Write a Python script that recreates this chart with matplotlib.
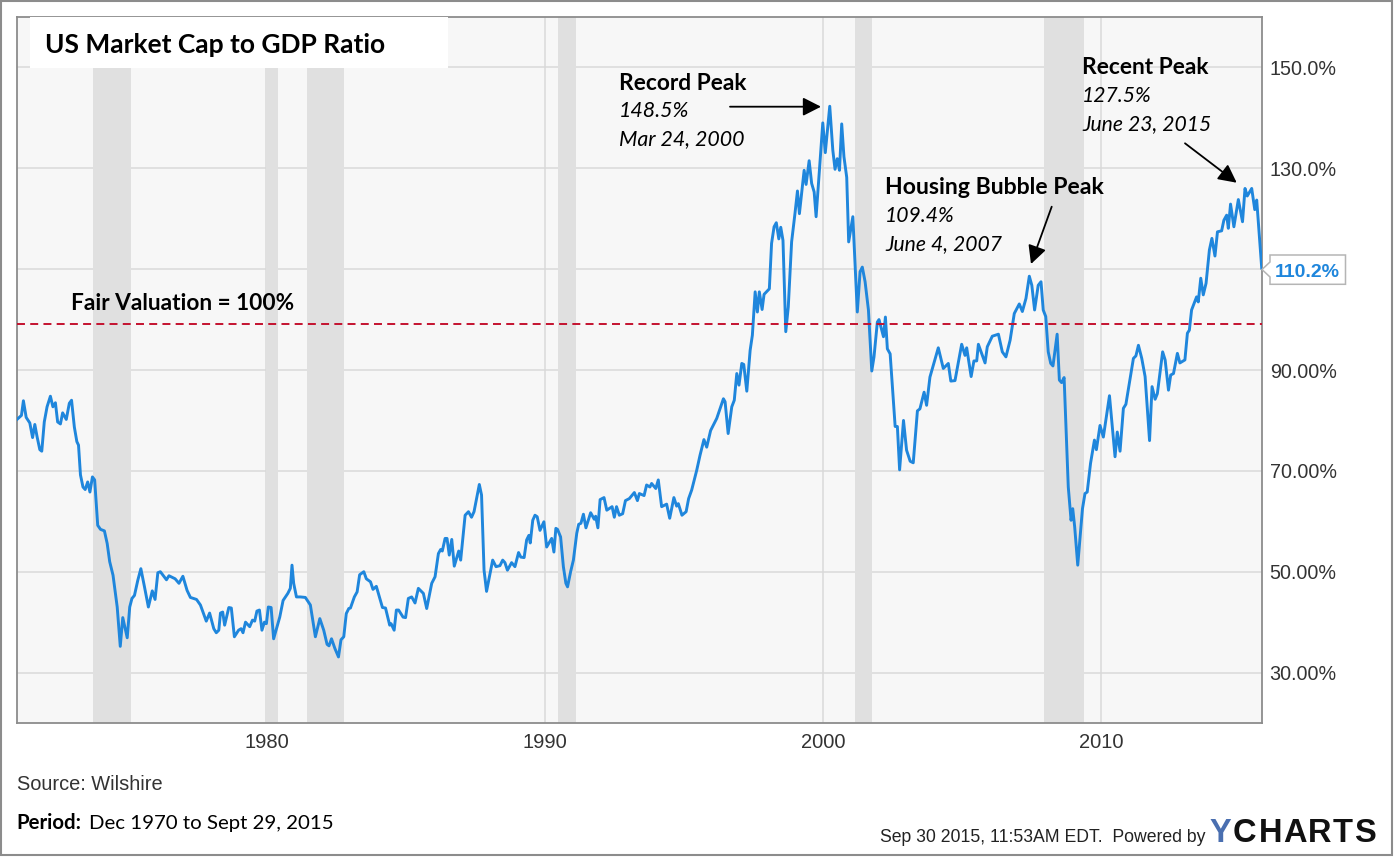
import matplotlib
matplotlib.use("Agg")
import matplotlib.pyplot as plt
from matplotlib.patches import Rectangle, Polygon

W, H = 1394, 857

dates = [
    1971.04, 1971.2, 1971.27, 1971.37, 1971.5, 1971.6, 1971.68, 1971.76, 1971.86, 1971.93,
    1972.02, 1972.12, 1972.24, 1972.33, 1972.42, 1972.5, 1972.6, 1972.68, 1972.81, 1972.92,
    1973.0, 1973.1, 1973.19, 1973.25, 1973.32, 1973.41, 1973.49, 1973.58, 1973.66, 1973.75,
    1973.83, 1973.94, 1974.04, 1974.18, 1974.28, 1974.37, 1974.49, 1974.64, 1974.75, 1974.84,
    1975.0, 1975.09, 1975.17, 1975.26, 1975.38, 1975.49, 1975.62, 1975.76, 1975.9, 1976.0,
    1976.1, 1976.19, 1976.41, 1976.5, 1976.72, 1976.86, 1977.0, 1977.15, 1977.27, 1977.49,
    1977.63, 1977.84, 1977.96, 1978.11, 1978.2, 1978.29, 1978.35, 1978.43, 1978.5, 1978.65,
    1978.74, 1978.85, 1979.0, 1979.09, 1979.16, 1979.25, 1979.4, 1979.5, 1979.58, 1979.66,
    1979.75, 1979.84, 1979.93, 1980.0, 1980.07, 1980.17, 1980.26, 1980.48, 1980.6, 1980.77,
    1980.86, 1980.92, 1980.98, 1981.08, 1981.22, 1981.4, 1981.58, 1981.76, 1981.92, 1982.06,
    1982.18, 1982.25, 1982.34, 1982.46, 1982.59, 1982.68, 1982.78, 1982.87, 1982.96, 1983.02,
    1983.16, 1983.26, 1983.35, 1983.5, 1983.59, 1983.74, 1983.83, 1983.95, 1984.17, 1984.28,
    1984.43, 1984.48, 1984.59, 1984.67, 1984.75, 1984.91, 1985.0, 1985.1, 1985.22, 1985.34,
    1985.46, 1985.64, 1985.76, 1985.94, 1986.06, 1986.18, 1986.26, 1986.32, 1986.42, 1986.49,
    1986.57, 1986.66, 1986.75, 1986.91, 1986.98, 1987.14, 1987.26, 1987.37, 1987.46, 1987.65,
    1987.73, 1987.82, 1987.91, 1988.13, 1988.25, 1988.39, 1988.49, 1988.57, 1988.66, 1988.81,
    1988.93, 1989.06, 1989.14, 1989.26, 1989.35, 1989.43, 1989.48, 1989.57, 1989.65, 1989.73,
    1989.83, 1989.97, 1990.07, 1990.25, 1990.33, 1990.4, 1990.46, 1990.57, 1990.67, 1990.76,
    1990.82, 1990.93, 1991.03, 1991.15, 1991.22, 1991.3, 1991.39, 1991.48, 1991.65, 1991.78,
    1991.83, 1991.91, 1991.99, 1992.13, 1992.23, 1992.42, 1992.5, 1992.58, 1992.68, 1992.8,
    1992.9, 1993.04, 1993.22, 1993.33, 1993.4, 1993.57, 1993.66, 1993.78, 1993.84, 1993.99,
    1994.08, 1994.2, 1994.38, 1994.49, 1994.64, 1994.74, 1994.8, 1994.93, 1995.08, 1995.17,
    1995.28, 1995.46, 1995.58, 1995.72, 1995.82, 1995.96, 1996.18, 1996.42, 1996.48, 1996.59,
    1996.72, 1996.81, 1996.9, 1996.98, 1997.08, 1997.15, 1997.26, 1997.38, 1997.46, 1997.56,
    1997.64, 1997.71, 1997.81, 1997.88, 1998.07, 1998.15, 1998.24, 1998.32, 1998.41, 1998.48,
    1998.56, 1998.66, 1998.75, 1998.87, 1998.99, 1999.08, 1999.15, 1999.32, 1999.39, 1999.5,
    1999.59, 1999.68, 1999.75, 1999.87, 1999.99, 2000.08, 2000.24, 2000.35, 2000.43, 2000.51,
    2000.59, 2000.67, 2000.75, 2000.85, 2000.92, 2001.07, 2001.23, 2001.33, 2001.41, 2001.51,
    2001.63, 2001.75, 2001.83, 2001.95, 2002.01, 2002.17, 2002.24, 2002.31, 2002.41, 2002.59,
    2002.67, 2002.75, 2002.89, 2003.0, 2003.13, 2003.24, 2003.39, 2003.48, 2003.63, 2003.72,
    2003.84, 2003.96, 2004.14, 2004.32, 2004.5, 2004.59, 2004.74, 2004.98, 2005.1, 2005.16,
    2005.32, 2005.42, 2005.52, 2005.58, 2005.82, 2005.9, 2006.08, 2006.3, 2006.44, 2006.57,
    2006.72, 2006.87, 2007.05, 2007.16, 2007.29, 2007.41, 2007.5, 2007.6, 2007.73, 2007.83,
    2007.91, 2008.0, 2008.09, 2008.18, 2008.26, 2008.41, 2008.49, 2008.57, 2008.66, 2008.81,
    2008.91, 2008.97, 2009.04, 2009.15, 2009.32, 2009.41, 2009.49, 2009.61, 2009.75, 2009.82,
    2009.95, 2010.07, 2010.29, 2010.49, 2010.57, 2010.67, 2010.79, 2010.88, 2011.03, 2011.15,
    2011.24, 2011.33, 2011.45, 2011.57, 2011.73, 2011.82, 2011.93, 2012.01, 2012.2, 2012.29,
    2012.41, 2012.49, 2012.59, 2012.73, 2012.82, 2013.0, 2013.09, 2013.16, 2013.24, 2013.42,
    2013.48, 2013.57, 2013.66, 2013.76, 2013.88, 2013.97, 2014.08, 2014.17, 2014.32, 2014.4,
    2014.5, 2014.56, 2014.64, 2014.76, 2014.92, 2015.07, 2015.16, 2015.24, 2015.4, 2015.51,
    2015.58, 2015.76,
]

ratio = [
    80.2, 81.0, 83.9, 80.6, 79.5, 76.6, 79.2, 76.8, 74.2, 73.9,
    79.7, 82.7, 84.8, 82.7, 83.5, 79.7, 79.3, 81.5, 80.2, 83.4,
    84.0, 78.7, 75.8, 75.1, 69.2, 66.8, 66.3, 67.8, 65.8, 68.8,
    68.2, 59.2, 58.4, 58.1, 55.6, 52.0, 49.3, 43.0, 35.2, 40.9,
    36.9, 43.0, 44.7, 45.3, 48.3, 50.6, 47.0, 43.0, 46.2, 44.5,
    49.8, 50.0, 48.4, 49.2, 48.6, 47.7, 49.1, 46.3, 44.9, 44.5,
    43.4, 40.2, 41.8, 38.7, 37.9, 38.4, 41.8, 42.0, 39.4, 42.9,
    42.8, 37.1, 38.4, 38.7, 37.9, 40.0, 39.1, 40.4, 40.2, 42.2,
    42.4, 38.4, 40.0, 39.7, 43.0, 42.9, 36.7, 41.0, 44.3, 45.7,
    46.7, 51.3, 47.7, 45.0, 45.0, 44.9, 43.4, 37.1, 40.7, 38.4,
    35.6, 35.3, 36.7, 34.8, 33.1, 36.5, 37.1, 41.7, 42.7, 42.8,
    45.0, 46.0, 49.4, 50.0, 48.6, 48.0, 46.5, 47.1, 42.9, 42.8,
    39.4, 39.7, 38.4, 42.4, 42.4, 41.0, 40.9, 44.7, 45.0, 43.8,
    46.7, 45.7, 42.7, 47.7, 49.0, 53.6, 54.4, 54.1, 56.6, 56.6,
    53.3, 56.4, 51.1, 54.1, 52.3, 61.2, 61.9, 60.8, 61.9, 67.3,
    65.2, 50.3, 46.1, 52.3, 51.0, 51.2, 52.3, 51.8, 50.3, 51.8,
    51.0, 53.8, 52.9, 52.8, 56.3, 57.2, 55.7, 60.2, 61.2, 60.9,
    58.2, 59.9, 54.9, 56.6, 53.9, 58.6, 58.4, 56.9, 51.0, 47.7,
    47.0, 50.0, 52.3, 57.6, 59.4, 59.6, 61.4, 58.7, 61.7, 60.4,
    61.0, 58.7, 64.3, 64.7, 62.2, 62.9, 60.8, 62.9, 61.2, 61.5,
    64.1, 64.5, 65.7, 64.1, 65.5, 65.1, 67.2, 66.8, 67.5, 66.5,
    68.2, 62.9, 63.4, 60.6, 64.7, 63.0, 63.5, 61.2, 61.9, 64.5,
    66.2, 70.1, 73.1, 76.2, 74.7, 78.0, 80.4, 84.3, 83.7, 77.4,
    82.7, 84.0, 89.3, 87.0, 91.3, 91.1, 85.8, 93.9, 96.9, 105.5,
    101.5, 105.5, 102.0, 105.0, 106.1, 115.1, 118.4, 119.2, 116.0, 118.3,
    115.7, 97.6, 102.5, 115.4, 121.0, 125.5, 121.0, 129.6, 126.8, 131.5,
    127.0, 125.3, 120.4, 129.6, 139.0, 133.1, 142.3, 133.6, 129.8, 131.9,
    129.6, 138.8, 132.3, 128.2, 115.4, 120.4, 101.5, 109.5, 110.4, 107.5,
    101.9, 89.8, 92.6, 99.5, 100.0, 96.6, 100.5, 94.2, 93.2, 78.8,
    78.8, 70.2, 80.0, 74.1, 71.9, 71.6, 81.9, 82.3, 85.6, 83.0,
    88.6, 90.9, 94.4, 90.3, 91.3, 87.8, 87.9, 95.1, 92.9, 94.4,
    88.7, 91.8, 91.8, 95.1, 91.4, 94.6, 96.7, 97.1, 93.6, 92.6,
    95.9, 101.2, 103.1, 101.6, 104.2, 108.6, 106.8, 101.9, 106.8, 107.5,
    101.9, 100.6, 93.6, 91.3, 90.8, 97.1, 88.0, 87.5, 88.5, 66.8,
    60.2, 62.5, 58.9, 51.3, 62.5, 65.5, 65.8, 71.5, 76.1, 74.2,
    79.0, 76.7, 84.9, 72.8, 77.7, 73.9, 82.4, 83.2, 88.3, 92.3,
    92.8, 94.9, 92.3, 88.7, 76.0, 86.7, 84.2, 85.3, 93.6, 92.0,
    86.0, 89.0, 89.3, 93.3, 91.4, 92.0, 97.3, 97.9, 101.9, 104.5,
    103.5, 108.2, 104.9, 107.2, 113.8, 116.1, 112.6, 117.4, 117.6, 119.7,
    120.7, 118.1, 122.9, 118.4, 123.8, 119.4, 126.0, 124.5, 126.0, 121.8,
    123.7, 110.2,
]

recessions = [(1973.78, 1975.13), (1979.97, 1980.43), (1981.45, 1982.8),
              (1990.47, 1991.11), (2001.15, 2001.77), (2007.92, 2009.38)]
fair_value = 99.1
y_ticks = [30, 50, 70, 90, 110, 130, 150]
y_labels = ["30.00%", "50.00%", "70.00%", "90.00%", "", "130.0%", "150.0%"]
x_ticks = [1980, 1990, 2000, 2010]
x_labels = ["1980", "1990", "2000", "2010"]

BLUE = "#1f86dc"
GRAY = "#8c8c8c"
SANS = "Liberation Sans"
CAL = "Lato"


def fx(x):
    return x / W


def fy(y):
    return 1 - y / H


def label(x, y, s, size=16, weight="normal", style="normal", family=CAL, color="black", ha="left"):
    # x, y in picture pixels, y is the vertical middle of the text
    fig.text(fx(x), fy(y + 2), s, fontsize=size, fontweight=weight, fontstyle=style,
             family=family, color=color, ha=ha, va="center", zorder=6)


def arrow(x0, y0, x1, y1):
    ax.annotate("", xy=(fx(x1), fy(y1)), xytext=(fx(x0), fy(y0)),
                xycoords="figure fraction", textcoords="figure fraction", zorder=6,
                arrowprops=dict(arrowstyle="-|>,head_length=0.55,head_width=0.28", color="black",
                                lw=1.3, mutation_scale=20, shrinkA=0, shrinkB=0))


fig = plt.figure(figsize=(W / 100, H / 100), dpi=100, facecolor="white")
ax = fig.add_axes([fx(17), fy(723), fx(1262 - 17), (723 - 17) / H])
ax.set_facecolor("#f7f7f7")

for start, end in recessions:
    ax.axvspan(start, end, color="#e0e0e0", lw=0, zorder=1)

ax.plot(dates, ratio, color=BLUE, lw=2.1, solid_joinstyle="round", zorder=3)
ax.axhline(fair_value, color="#c4122f", lw=1.4, linestyle=(0, (4.1, 2.7)), zorder=4)

ax.set_xlim(1971.04, 2015.77)
ax.set_ylim(20, 160)
ax.set_axisbelow(True)
ax.grid(True, color="#d9d9d9", lw=1.1)
ax.yaxis.tick_right()
ax.set_yticks(y_ticks)
ax.set_yticklabels(y_labels, family=SANS, fontsize=14.2, color="#333333")
ax.set_xticks(x_ticks)
ax.set_xticklabels(x_labels, family=SANS, fontsize=14.5, color="#333333")
ax.tick_params(axis="both", length=0)
ax.tick_params(axis="y", pad=5.5)
ax.tick_params(axis="x", pad=7)
for spine in ax.spines.values():
    spine.set_color(GRAY)
    spine.set_linewidth(1.3)

# white title box over the plot area
fig.add_artist(Rectangle((fx(30), fy(68)), fx(418), 51 / H, transform=fig.transFigure,
                         facecolor="white", edgecolor="none", zorder=2))
label(45, 43, "US Market Cap to GDP Ratio", size=19, weight="bold")

label(71, 301, "Fair Valuation = 100%", size=16.3, weight="bold")

label(619, 81, "Record Peak", size=16.4, weight="bold")
label(619, 109, "148.5%", size=15.4, style="italic")
label(619, 137, "Mar 24, 2000", size=15.4, style="italic")
arrow(730, 106.7, 821, 106.7)

label(885, 186, "Housing Bubble Peak", size=16.6, weight="bold")
label(885, 214, "109.4%", size=15.2, style="italic")
label(885, 242, "June 4, 2007", size=15.2, style="italic")
arrow(1051.7, 206.7, 1031, 264)

label(1082, 66, "Recent Peak", size=16.4, weight="bold")
label(1082, 94, "127.5%", size=15.2, style="italic")
label(1082, 122, "June 23, 2015", size=15.2, style="italic")
arrow(1185, 143.3, 1236.7, 182.7)

# last value callout
corners = [(1262, 269.5), (1270, 262), (1270, 255), (1345.5, 255), (1345.5, 284.3), (1270, 284.3), (1270, 277)]
fig.add_artist(Polygon([(fx(x), fy(y)) for x, y in corners], closed=True, transform=fig.transFigure,
                       facecolor="white", edgecolor="#b5b5b5", lw=1.1, zorder=5))
label(1275, 270, "110.2%", size=14, weight="bold", family=SANS, color=BLUE)

label(17, 782, "Source: Wilshire", size=14.4, family=SANS, color="#333333")
label(16, 821, "Period:", size=14.7, weight="bold")
label(89, 821, "Dec 1970 to Sept 29, 2015", size=14.7)

label(880, 835, "Sep 30 2015, 11:53AM EDT.  Powered by", size=12.7, family=SANS, color="#222222")

# logo letters are spread a bit wider than the font's own spacing
label(1210, 831, "Y", size=23.5, weight="bold", family=SANS, color="#4a6fb0")
for logo_x, letter in zip([1233, 1258.5, 1283, 1308, 1332.5, 1354], "CHARTS"):
    label(logo_x, 831, letter, size=23.5, weight="bold", family=SANS, color="#111111")

# outer frame of the picture
fig.add_artist(Rectangle((fx(1), fy(855)), fx(1391), 854 / H, transform=fig.transFigure,
                         facecolor="none", edgecolor=GRAY, lw=1.5, zorder=7))

fig.savefig("out.png", dpi=100)
